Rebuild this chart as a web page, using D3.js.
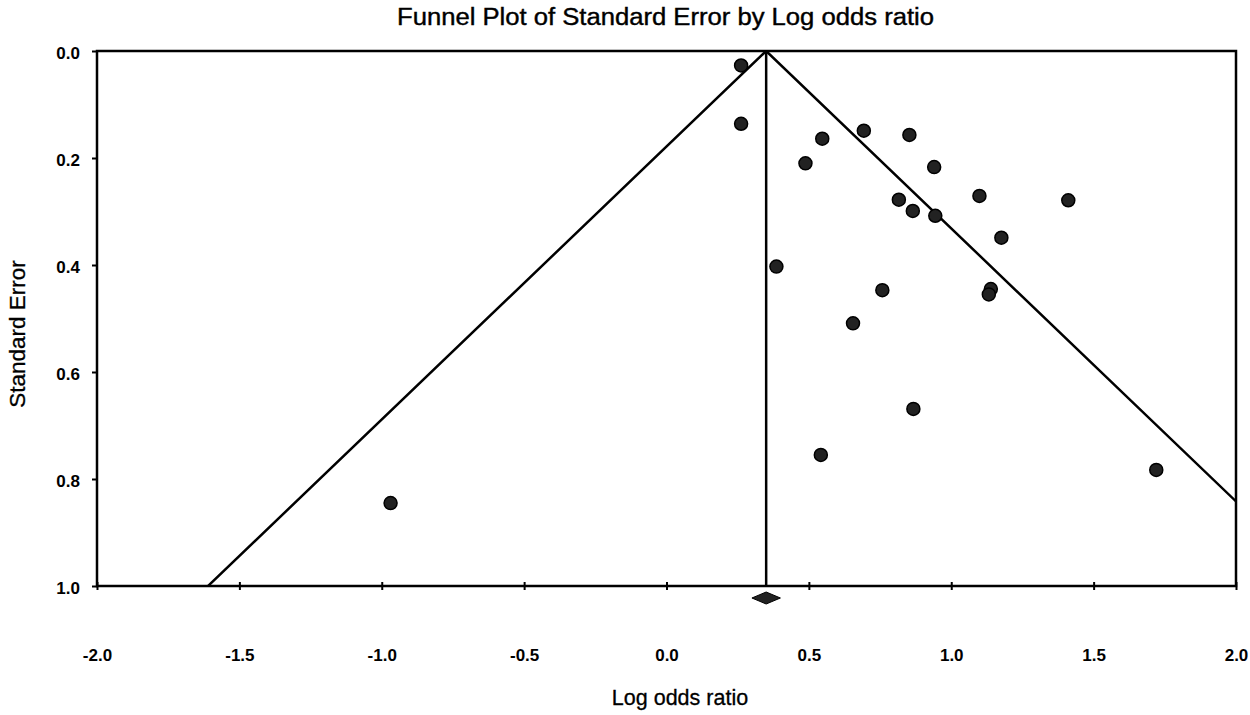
<!DOCTYPE html>
<html>
<head>
<meta charset="utf-8">
<script src="https://cdn.jsdelivr.net/npm/d3@7"></script>
<style>
  body { margin: 0; background: #fff; }
  svg { display: block; font-family: "Liberation Sans", Arial, Helvetica, sans-serif; }
</style>
</head>
<body>
<svg id="funnel" width="1250" height="715"></svg>
<script>
// study values
const logOdds = [0.262, 0.262, 0.547, 0.693, 0.853, 0.488, 0.940, 1.099, 0.816, 0.865, 0.944,
    1.411, 1.176, 0.386, 0.758, 1.139, 1.132, 0.655, 0.867, 0.542, 1.720, -0.969];
const stdErr = [0.027, 0.136, 0.164, 0.149, 0.157, 0.210, 0.217, 0.271, 0.278, 0.299, 0.308,
    0.279, 0.349, 0.403, 0.447, 0.445, 0.455, 0.509, 0.669, 0.755, 0.783, 0.845];

const meanEffect = 0.35;
const ciLow = 0.30;
const ciHigh = 0.40;

const xTicks = [-2.0, -1.5, -1.0, -0.5, 0.0, 0.5, 1.0, 1.5, 2.0];
const yTicks = [0.0, 0.2, 0.4, 0.6, 0.8, 1.0];

const svg = d3.select("#funnel");
const plotL = 97, plotR = 1236, plotT = 51, plotB = 586;

const x = d3.scaleLinear().domain([-2, 2]).range([plotL, plotR]);
const y = d3.scaleLinear().domain([0, 1]).range([plotT, plotB]);

svg.append("defs").append("clipPath").attr("id", "plotclip")
    .append("rect")
    .attr("x", plotL).attr("y", plotT)
    .attr("width", plotR - plotL).attr("height", plotB - plotT);

// title
svg.append("text")
    .attr("x", 397)
    .attr("y", 25)
    .attr("font-size", 23)
    .attr("textLength", 537)
    .attr("lengthAdjust", "spacingAndGlyphs")
    .attr("stroke", "#000")
    .attr("stroke-width", 0.4)
    .text("Funnel Plot of Standard Error by Log odds ratio");

// funnel lines
const g = svg.append("g").attr("clip-path", "url(#plotclip)");
const line = d3.line().x(d => x(d[0])).y(d => y(d[1]));
const funnel = [[meanEffect - 1.96 * 1.2, 1.2], [meanEffect, 0], [meanEffect + 1.96 * 1.2, 1.2]];
g.append("path")
    .attr("d", line(funnel))
    .attr("fill", "none")
    .attr("stroke", "#000")
    .attr("stroke-width", 2.5);

g.append("line")
    .attr("x1", x(meanEffect)).attr("x2", x(meanEffect))
    .attr("y1", y(0)).attr("y2", y(1))
    .attr("stroke", "#000")
    .attr("stroke-width", 2.5);

// axes
const xAxis = svg.append("g")
    .attr("transform", "translate(0," + plotB + ")")
    .call(d3.axisBottom(x).tickValues(xTicks).tickFormat(d3.format(".1f")).tickSize(4).tickPadding(59));
xAxis.select(".domain").remove();
xAxis.selectAll(".tick line").attr("y1", -4).attr("stroke-width", 2);
xAxis.selectAll(".tick text")
    .attr("font-size", 17).attr("font-weight", "bold").attr("fill", "#000")
    .text(d => d3.format(".1f")(d).replace("−", "-"));

const yAxis = svg.append("g")
    .attr("transform", "translate(" + plotL + ",0)")
    .call(d3.axisLeft(y).tickValues(yTicks).tickFormat(d3.format(".1f")).tickSize(5).tickPadding(12));
yAxis.select(".domain").remove();
yAxis.selectAll(".tick line").attr("stroke-width", 2);
yAxis.selectAll(".tick text")
    .attr("font-size", 17).attr("font-weight", "bold").attr("fill", "#000")
    .attr("dy", "0.45em");

// frame
svg.append("rect")
    .attr("x", plotL).attr("y", plotT)
    .attr("width", plotR - plotL).attr("height", plotB - plotT)
    .attr("fill", "none")
    .attr("stroke", "#000")
    .attr("stroke-width", 2.5);

// points
svg.append("g").selectAll("circle")
    .data(logOdds.map((v, i) => [v, stdErr[i]]))
    .enter().append("circle")
    .attr("cx", d => x(d[0]))
    .attr("cy", d => y(d[1]))
    .attr("r", 6.5)
    .attr("fill", "#222")
    .attr("stroke", "#000")
    .attr("stroke-width", 1.5);

// summary diamond
const dy = plotB + 12;
svg.append("path")
    .attr("d", "M" + x(ciLow) + "," + dy + "L" + x(meanEffect) + "," + (dy - 6) +
        "L" + x(ciHigh) + "," + dy + "L" + x(meanEffect) + "," + (dy + 6) + "Z")
    .attr("fill", "#222")
    .attr("stroke", "#000")
    .attr("stroke-width", 1);

// axis titles
svg.append("text")
    .attr("x", 680)
    .attr("y", 705)
    .attr("text-anchor", "middle")
    .attr("font-size", 21.5)
    .attr("stroke", "#000")
    .attr("stroke-width", 0.3)
    .text("Log odds ratio");

svg.append("text")
    .attr("transform", "translate(25,334) rotate(-90)")
    .attr("text-anchor", "middle")
    .attr("font-size", 22.5)
    .attr("stroke", "#000")
    .attr("stroke-width", 0.3)
    .text("Standard Error");
</script>
</body>
</html>
